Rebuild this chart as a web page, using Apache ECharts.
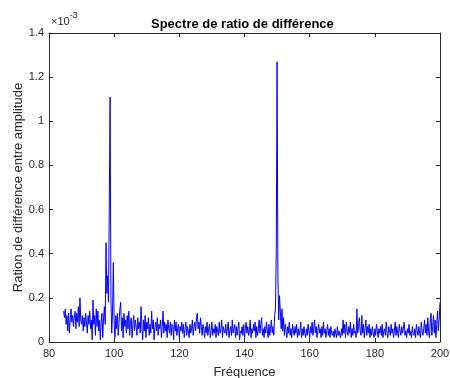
<!DOCTYPE html>
<html>
<head>
<meta charset="utf-8">
<script src="https://cdn.jsdelivr.net/npm/echarts@6/dist/echarts.min.js"></script>
<style>
  html, body { margin: 0; padding: 0; background: #fff; }
  #chart { width: 450px; height: 378px; }
</style>
</head>
<body>
<div id="chart"></div>
<script>
  // sample grid of the spectrum (Hz)
  const freqStart = 84.5;
  const freqStep = 0.25;

  // ratio values, in units of 1e-3
  const ratio = [
    0.14, 0.11,
    0.15, 0.08, 0.12, 0.05,  0.13, 0.04, 0.10, 0.15,  0.09, 0.12, 0.07, 0.11,
    0.14, 0.06, 0.13, 0.09,  0.16, 0.07, 0.20, 0.10,  0.08, 0.12, 0.05, 0.11,
    0.07, 0.13, 0.09, 0.04,  0.12, 0.08, 0.14, 0.06,  0.10, 0.01, 0.19, 0.08,
    0.12, 0.03, 0.15, 0.07,  0.14, 0.05, 0.10, 0.01,  0.09, 0.13, 0.02, 0.11,
    0.16, 0.08, 0.45, 0.22,  0.30, 0.18, 0.62, 1.11,  0.20, 0.04, 0.14, 0.36,
    0.08, 0.02, 0.12, 0.06,  0.13, 0.03, 0.09, 0.15,  0.18, 0.05, 0.11, 0.02,
    0.13, 0.07, 0.10, 0.04,  0.12, 0.06, 0.14, 0.03,  0.09, 0.11, 0.02, 0.08,
    0.12, 0.05, 0.10, 0.07,  0.03, 0.11, 0.06, 0.09,  0.04, 0.16, 0.07, 0.01,
    0.10, 0.05, 0.12, 0.02,  0.09, 0.06, 0.11, 0.03,  0.08, 0.04, 0.14, 0.06,
    0.10, 0.01, 0.07, 0.09,  0.05, 0.11, 0.03, 0.08,  0.06, 0.10, 0.02, 0.07,
    0.14, 0.04, 0.09, 0.05,  0.08, 0.02, 0.10, 0.06,  0.04, 0.09, 0.03, 0.08,
    0.07, 0.01, 0.10, 0.05,  0.09, 0.03, 0.06, 0.08,  0.02, 0.07, 0.05, 0.09,
    0.04, 0.08, 0.02, 0.06,  0.09, 0.03, 0.07, 0.05,  0.02, 0.08, 0.04, 0.06,
    0.10, 0.03, 0.07, 0.09,  0.05, 0.11, 0.13, 0.06,  0.09, 0.04, 0.11, 0.07,
    0.03, 0.08, 0.06, 0.02,  0.07, 0.04, 0.09, 0.03,  0.06, 0.08, 0.02, 0.05,
    0.09, 0.03, 0.06, 0.04,  0.08, 0.02, 0.07, 0.05,  0.03, 0.09, 0.04, 0.06,
    0.10, 0.02, 0.07, 0.05,  0.04, 0.08, 0.03, 0.06,  0.09, 0.02, 0.05, 0.07,
    0.03, 0.10, 0.04, 0.06,  0.08, 0.02, 0.07, 0.03,  0.06, 0.09, 0.01, 0.05,
    0.04, 0.07, 0.03, 0.08,  0.02, 0.06, 0.09, 0.04,  0.07, 0.03, 0.05, 0.10,
    0.02, 0.06, 0.04, 0.08,  0.05, 0.09, 0.02, 0.07,  0.03, 0.06, 0.10, 0.04,
    0.08, 0.11, 0.03, 0.06,  0.02, 0.07, 0.04, 0.09,  0.05, 0.02, 0.08, 0.03,
    0.06, 0.10, 0.04, 0.07,  0.03, 0.12, 0.15, 0.42,  1.27, 0.30, 0.10, 0.21,
    0.14, 0.06, 0.15, 0.05,  0.11, 0.03, 0.08, 0.05,  0.02, 0.07, 0.04, 0.09,
    0.03, 0.06, 0.02, 0.08,  0.05, 0.03, 0.07, 0.04,  0.08, 0.02, 0.06, 0.03,
    0.05, 0.09, 0.02, 0.06,  0.03, 0.07, 0.04, 0.02,  0.06, 0.03, 0.08, 0.05,
    0.02, 0.07, 0.04, 0.09,  0.03, 0.06, 0.10, 0.04,  0.07, 0.02, 0.05, 0.08,
    0.04, 0.06, 0.02, 0.07,  0.03, 0.09, 0.04, 0.06,  0.02, 0.05, 0.08, 0.03,
    0.06, 0.02, 0.07, 0.04,  0.03, 0.05, 0.02, 0.06,  0.04, 0.02, 0.07, 0.03,
    0.05, 0.03, 0.02, 0.06,  0.03, 0.10, 0.04, 0.08,  0.02, 0.09, 0.05, 0.03,
    0.07, 0.04, 0.09, 0.02,  0.06, 0.03, 0.08, 0.04,  0.05, 0.02, 0.15, 0.04,
    0.07, 0.11, 0.05, 0.03,  0.12, 0.04, 0.08, 0.02,  0.06, 0.10, 0.03, 0.07,
    0.04, 0.08, 0.02, 0.06,  0.03, 0.07, 0.04, 0.02,  0.06, 0.03, 0.08, 0.05,
    0.02, 0.06, 0.04, 0.07,  0.03, 0.08, 0.02, 0.05,  0.06, 0.03, 0.09, 0.04,
    0.02, 0.07, 0.05, 0.03,  0.08, 0.04, 0.06, 0.02,  0.05, 0.09, 0.03, 0.07,
    0.04, 0.02, 0.08, 0.05,  0.03, 0.07, 0.04, 0.06,  0.09, 0.03, 0.05, 0.02,
    0.06, 0.04, 0.08, 0.03,  0.05, 0.02, 0.07, 0.04,  0.03, 0.06, 0.02, 0.08,
    0.05, 0.03, 0.07, 0.04,  0.02, 0.09, 0.05, 0.03,  0.06, 0.10, 0.04, 0.08,
    0.03, 0.11, 0.05, 0.02,  0.09, 0.13, 0.03, 0.07,  0.12, 0.04, 0.10, 0.02,
    0.08, 0.14, 0.05, 0.10,
    0.18
  ];

  const xTicks = { min: 80, max: 200, interval: 20 };
  const yTicks = { min: 0, max: 1.4, interval: 0.2 };

  const axisColor = '#262626';
  const font = 'Liberation Sans, Arial, Helvetica, sans-serif';

  const points = ratio.map((v, i) => [freqStart + i * freqStep, v]);

  const chart = echarts.init(document.getElementById('chart'), null, { renderer: 'canvas' });

  const boxAxis = (extra) => Object.assign({
    type: 'value',
    axisLine: { show: true, onZero: false, lineStyle: { color: axisColor, width: 1 } },
    axisTick: { show: true, inside: true, length: 4, lineStyle: { color: axisColor } },
    splitLine: { show: false },
    axisLabel: { show: false }
  }, extra);

  chart.setOption({
    backgroundColor: '#ffffff',
    animation: false,
    title: {
      text: 'Spectre de ratio de différence',
      left: 146,
      top: 13,
      textStyle: { fontFamily: font, fontSize: 13, fontWeight: 'bold', color: '#000' }
    },
    grid: { left: 49, right: 10, top: 33, bottom: 36, containLabel: false, outerBoundsMode: 'none' },
    xAxis: [
      boxAxis({
        position: 'bottom',
        min: xTicks.min, max: xTicks.max, interval: xTicks.interval,
        axisLabel: { show: true, color: axisColor, fontFamily: font, fontSize: 11, margin: 6 },
        name: 'Fréquence',
        nameLocation: 'middle',
        nameGap: 24,
        nameTextStyle: { color: axisColor, fontFamily: font, fontSize: 13 }
      }),
      boxAxis({ position: 'top', min: xTicks.min, max: xTicks.max, interval: xTicks.interval })
    ],
    yAxis: [
      boxAxis({
        position: 'left',
        min: yTicks.min, max: yTicks.max, interval: yTicks.interval,
        axisLabel: { show: true, color: axisColor, fontFamily: font, fontSize: 11, margin: 5 },
        name: 'Ration de différence entre amplitude',
        nameLocation: 'middle',
        nameGap: 24,
        nameMoveOverlap: false,
        nameTextStyle: { color: axisColor, fontFamily: font, fontSize: 13 }
      }),
      boxAxis({ position: 'right', min: yTicks.min, max: yTicks.max, interval: yTicks.interval })
    ],
    graphic: [{
      type: 'text',
      left: 51,
      top: 11,
      style: {
        text: '{a|×10}{b|-3}',
        rich: {
          a: { fontFamily: font, fontSize: 11, fill: axisColor, verticalAlign: 'bottom', lineHeight: 16 },
          b: { fontFamily: font, fontSize: 9, fill: axisColor, verticalAlign: 'top', lineHeight: 16, padding: [0, 0, 7, 0] }
        }
      }
    }],
    series: [{
      type: 'line',
      xAxisIndex: 0,
      yAxisIndex: 0,
      data: points,
      showSymbol: false,
      symbol: 'none',
      lineStyle: { color: '#0000ff', width: 1 },
      silent: true
    }]
  });
</script>
</body>
</html>
